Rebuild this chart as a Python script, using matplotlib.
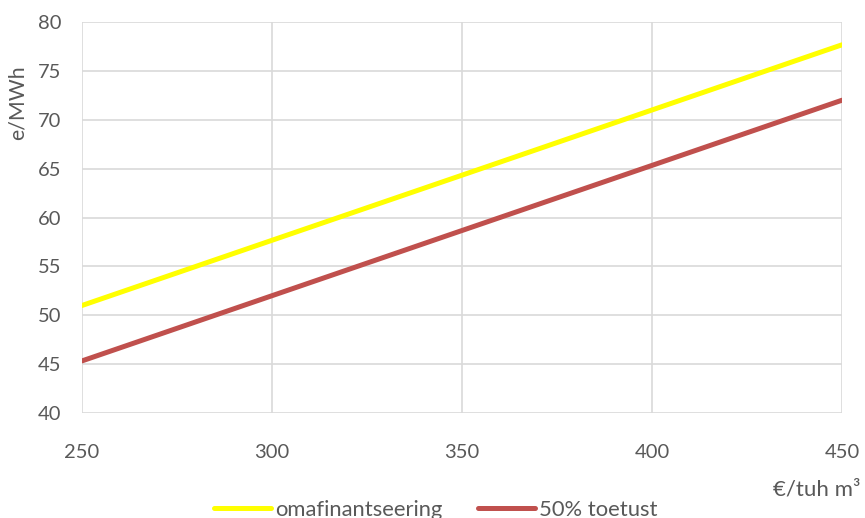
import matplotlib.pyplot as plt

# Hind (€/tuh m³) ja energia hind (e/MWh)
price = [250, 300, 350, 400, 450]
no_support = [51.0, 57.67, 64.33, 71.0, 77.67]
support_50 = [45.33, 52.0, 58.67, 65.33, 72.0]
series_names = ["omafinantseering", "50% toetust"]

plt.rcParams['font.family'] = ['Lato', 'DejaVu Sans']

fig = plt.figure(figsize=(8.65, 5.18), dpi=100)
ax = fig.add_axes([0.0948, 0.2027, 0.8786, 0.7548])

ax.plot(price, no_support, color='#FFFF00', lw=3.6, solid_capstyle='round', label=series_names[0])
ax.plot(price, support_50, color='#C0504D', lw=3.6, solid_capstyle='round', label=series_names[1])

ax.set_xlim(250, 450)
ax.set_ylim(40, 80)
ax.set_xticks(range(250, 451, 50))
ax.set_yticks(range(40, 81, 5))
ax.grid(color='#D9D9D9', lw=1.2)
ax.set_axisbelow(True)
for s in ax.spines.values():
    s.set_visible(False)
ax.tick_params(length=0, labelsize=14.5, colors='#595959')
ax.tick_params(axis='x', pad=22)
ax.tick_params(axis='y', pad=15)

fig.text(18 / 865, 1 - 103 / 518, "e/MWh", rotation=90, ha='center', va='center',
         fontsize=15.3, color='#595959')
fig.text(860 / 865, 1 - 490 / 518, "€/tuh m³", ha='right', va='center',
         fontsize=16, color='#595959')

leg = fig.legend(loc='center', bbox_to_anchor=(436 / 865, 1 - 510 / 518), ncol=2,
                 frameon=False, fontsize=15.8, handlelength=2.6, handletextpad=0.2,
                 columnspacing=1.6)
for t in leg.get_texts():
    t.set_color('#595959')

fig.savefig('out.png', dpi=100)
